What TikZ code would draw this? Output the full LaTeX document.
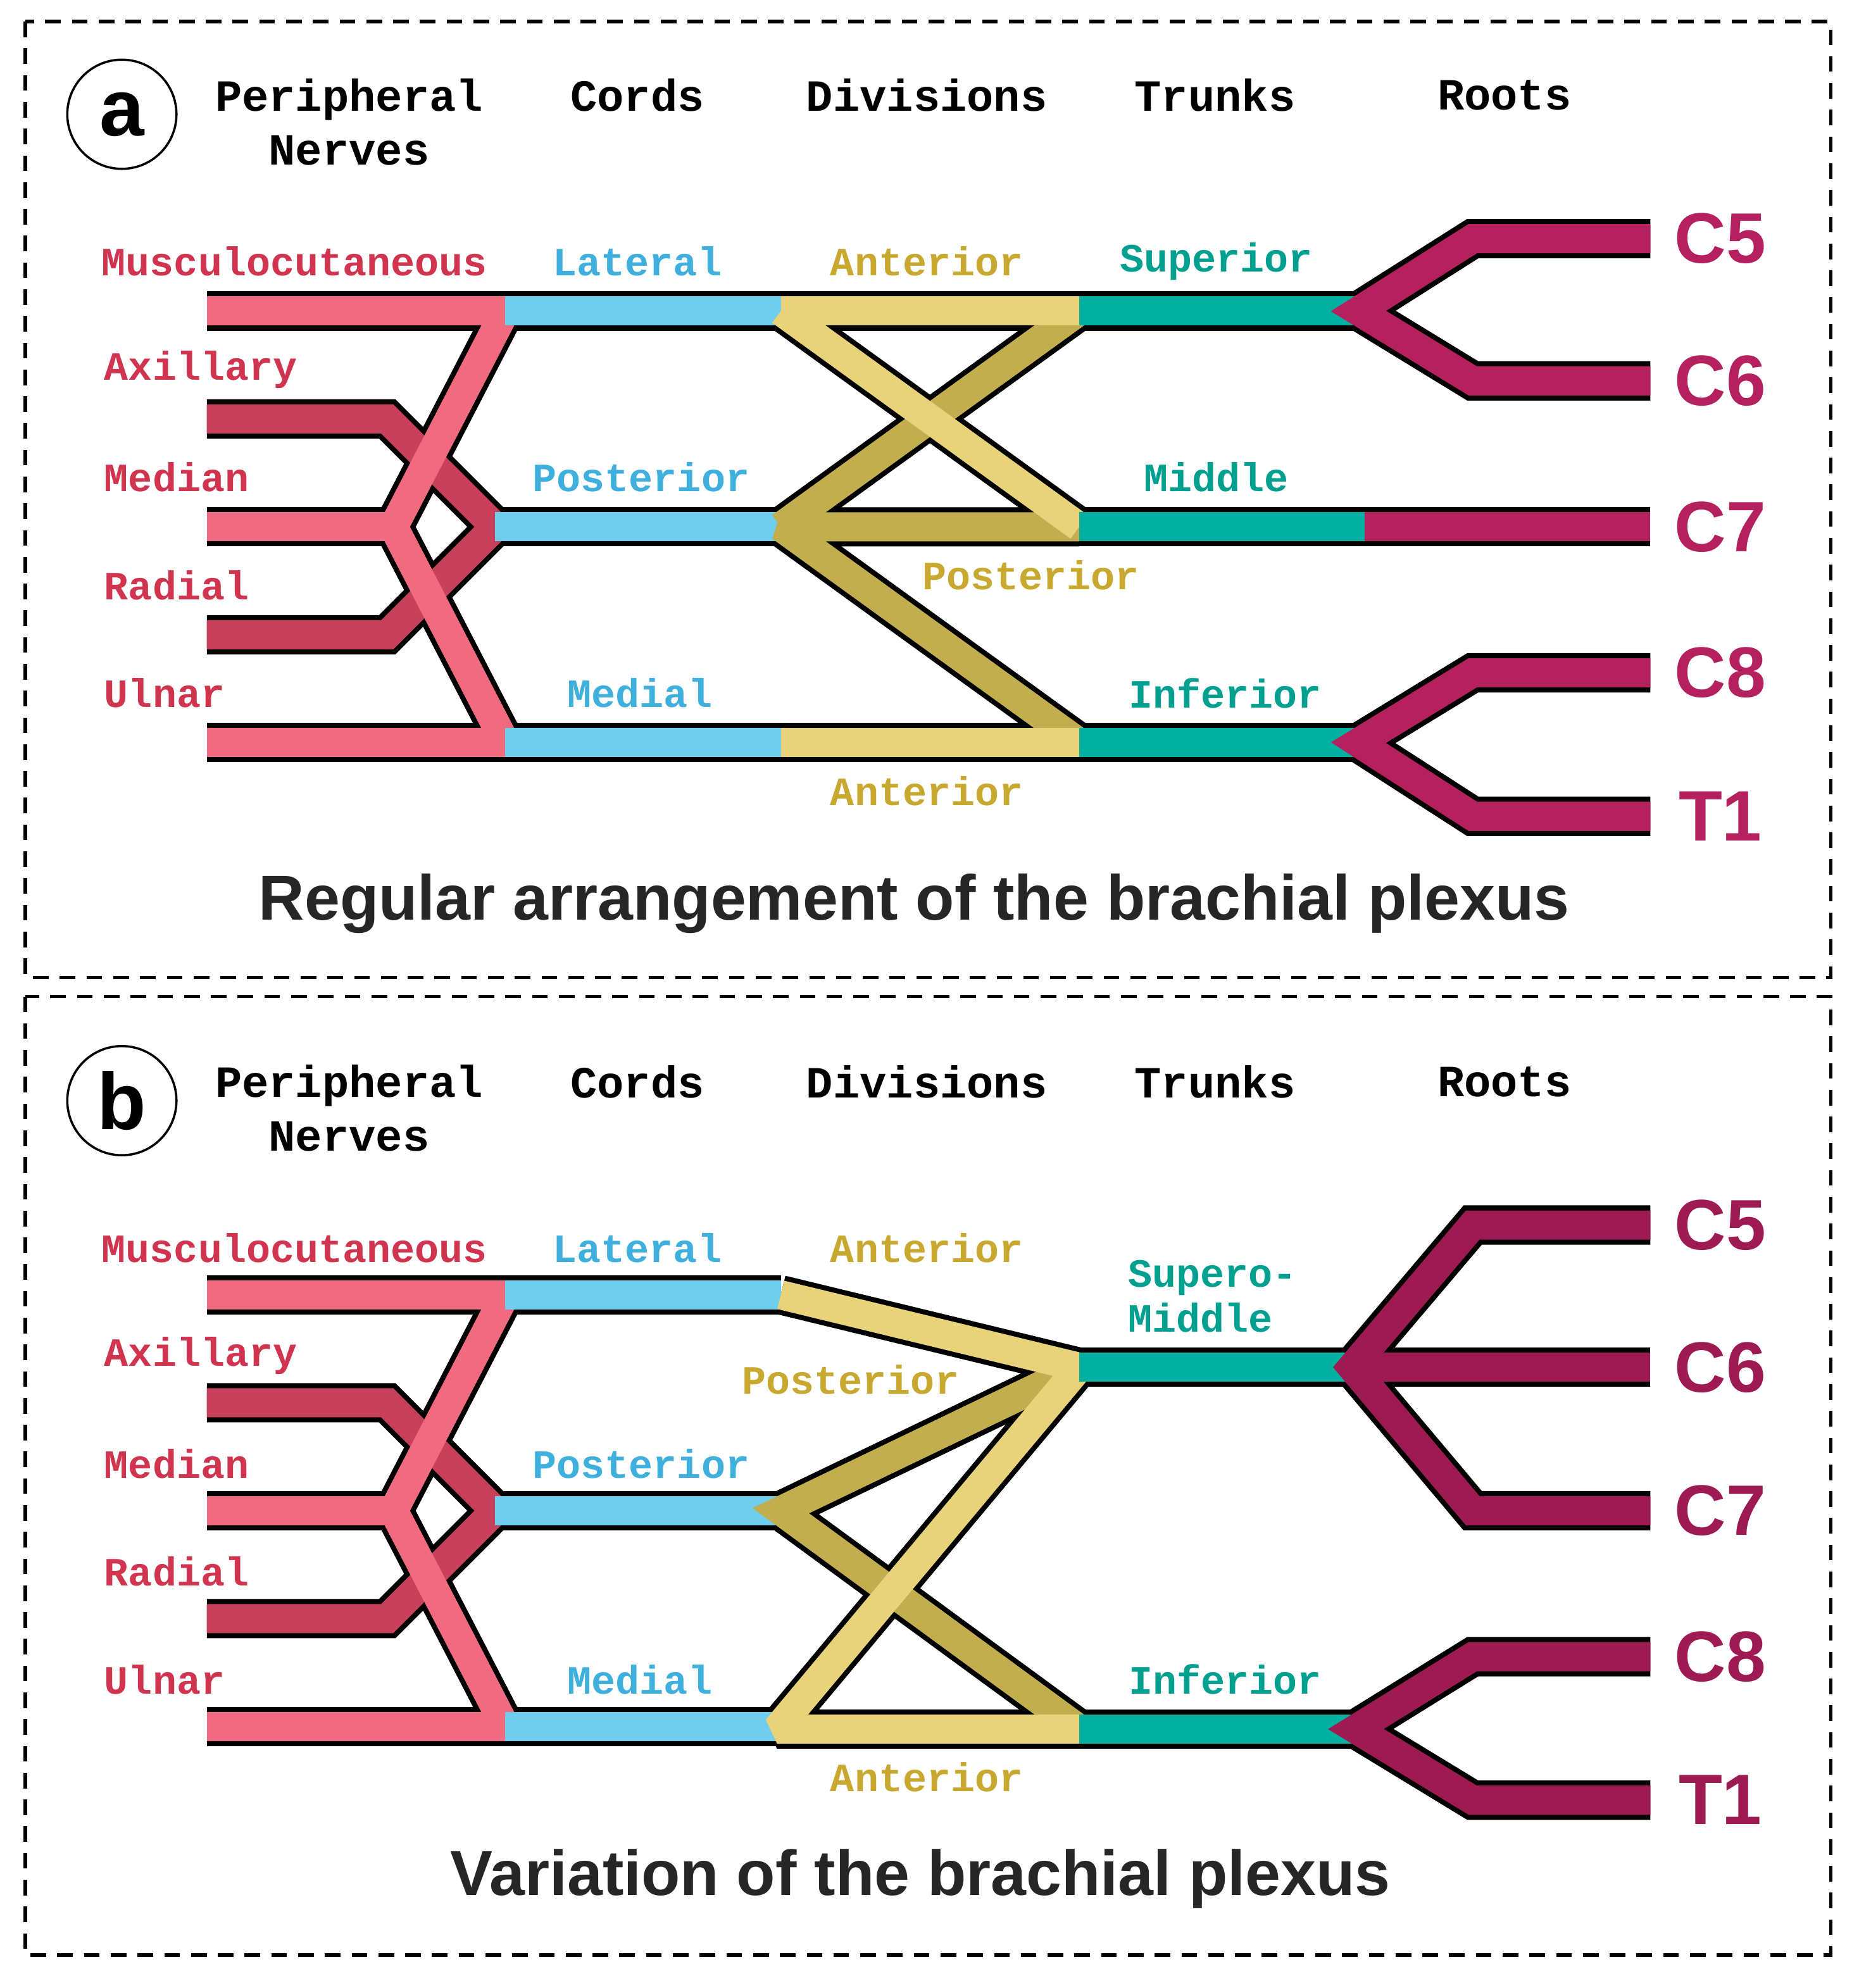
\documentclass[tikz,border=0pt]{standalone}
\usepackage{fontspec}
\setmainfont{Liberation Sans}
\newfontfamily\mono{Liberation Mono}
\begin{document}
\definecolor{pinkA}{HTML}{F06A80}
\definecolor{dpink}{HTML}{C8415A}
\definecolor{blueC}{HTML}{6FCDED}
\definecolor{lyel}{HTML}{E8D27A}
\definecolor{dyel}{HTML}{C2AE4E}
\definecolor{teal}{HTML}{00B0A0}
\definecolor{magA}{HTML}{B5205F}
\definecolor{magB}{HTML}{9E1A52}
\definecolor{tpink}{HTML}{D0344F}
\definecolor{tblue}{HTML}{3FB0DD}
\definecolor{tyel}{HTML}{C9A830}
\definecolor{tteal}{HTML}{00A090}
\begin{tikzpicture}[x=0.02cm,y=-0.02cm,line cap=butt,line join=miter,miter limit=2,
  lab/.style={font=\mono\bfseries\fontsize{18}{20}\selectfont},
  hd/.style={font=\mono\bfseries\fontsize{20}{24}\selectfont,align=center},
  root/.style={font=\bfseries\fontsize{32}{34}\selectfont,text=magA},
  ttl/.style={font=\bfseries\fontsize{28.5}{34}\selectfont,text=black!85},
  box/.style={draw,line width=1.5pt,dash pattern=on 7pt off 5pt}]
\useasboundingbox (0,0) rectangle (1464,1566);
\draw[box] (20,17) rectangle (1442,770);
\draw[box] (20,785) rectangle (1442,1540);
% ---------- panel bodies ----------
\newcommand\panelA{%
 \draw[seg=dpink] (163,330)--(305,330)--(390,415)--(305,500)--(163,500);
 \draw[seg=pinkA] (163,245)--(398,245);
 \draw[seg=pinkA] (163,415)--(310,415);
 \draw[seg=pinkA] (398,245)--(310,415)--(398,585);
 \draw[seg=pinkA] (163,585)--(398,585);
 \draw[seg=blueC] (398,245)--(615,245);
 \draw[seg=blueC] (390,415)--(615,415);
 \draw[seg=blueC] (398,585)--(615,585);
 \draw[seg=dyel] (850,245)--(615,415);
 \draw[seg=dyel] (850,415)--(615,415)--(850,585);
 \draw[seg=lyel] (615,245)--(850,245);
 \draw[seg=lyel] (615,245)--(850,415);
 \draw[seg=lyel] (615,585)--(850,585);
 \draw[seg=teal] (850,245)--(1070,245);
 \draw[seg=teal] (850,415)--(1075,415);
 \draw[seg=teal] (850,585)--(1070,585);
 \draw[seg=magA] (1300,188)--(1160,188)--(1070,245)--(1160,300)--(1300,300);
 \draw[seg=magA] (1075,415)--(1300,415);
 \draw[seg=magA] (1300,530)--(1160,530)--(1070,585)--(1160,643)--(1300,643);
}
\newcommand\panelB{%
 \draw[seg=dpink] (163,1105)--(305,1105)--(390,1190)--(305,1275)--(163,1275);
 \draw[seg=pinkA] (163,1020)--(398,1020);
 \draw[seg=pinkA] (163,1190)--(310,1190);
 \draw[seg=pinkA] (398,1020)--(310,1190)--(398,1360);
 \draw[seg=pinkA] (163,1360)--(398,1360);
 \draw[seg=blueC] (398,1020)--(615,1020);
 \draw[seg=blueC] (390,1190)--(615,1190);
 \draw[seg=blueC] (398,1360)--(612,1360);
 \draw[seg=dyel] (850,1077)--(615,1190)--(850,1362);
 \draw[seg=lyel] (615,1020)--(850,1077);
 \draw[seg=lyel] (850,1077)--(612,1362)--(850,1362);
 \draw[seg=teal] (850,1077)--(1065,1077);
 \draw[seg=teal] (850,1362)--(1068,1362);
 \draw[seg=magB] (1300,965)--(1160,965)--(1065,1077)--(1160,1190)--(1300,1190);
 \draw[seg=magB] (1065,1077)--(1300,1077);
 \draw[seg=magB] (1300,1305)--(1160,1305)--(1068,1362)--(1160,1418)--(1300,1418);
}
\tikzset{seg/.style={line width=0.62cm,black}}
\panelA \panelB
\tikzset{seg/.style={line width=0.46cm,draw=#1}}
\panelA \panelB
% ---------- labels ----------
\foreach \dy/\p in {0/a,777/b}{
 \node[circle,draw,line width=1pt,minimum size=1.72cm,font=\bfseries\fontsize{36}{36}\selectfont] (c\p) at (96,90+\dy) {\p};
 \node[hd] (h1\p) at (275,96+\dy) {Peripheral\\Nerves};
 \node[hd] (h2\p) at (502,75+\dy) {Cords};
 \node[hd] (h3\p) at (730,75+\dy) {Divisions};
 \node[hd] (h4\p) at (957,75+\dy) {Trunks};
 \node[hd] (h5\p) at (1185,75+\dy) {Roots};
 \node[lab,text=tpink] (m\p) at (232,206+\dy) {Musculocutaneous};
 \node[lab,text=tpink,anchor=west] (ax\p) at (76,291+\dy) {Axillary};
 \node[lab,text=tpink,anchor=west] (me\p) at (76,376+\dy) {Median};
 \node[lab,text=tpink,anchor=west] (ra\p) at (76,461+\dy) {Radial};
 \node[lab,text=tpink,anchor=west] (ul\p) at (76,546+\dy) {Ulnar};
 \node[lab,text=tblue] (la\p) at (502,206+\dy) {Lateral};
 \node[lab,text=tblue] (po\p) at (505,376+\dy) {Posterior};
 \node[lab,text=tblue] (md\p) at (504,546+\dy) {Medial};
 \node[lab,text=tyel] (an1\p) at (730,206+\dy) {Anterior};
 \node[lab,text=tyel] (an2\p) at (730,623+\dy) {Anterior};
 \node[lab,text=tteal] (in\p) at (965,546+\dy) {Inferior};
}
\node[lab,text=tteal] (sup) at (958,206) {Superior};
\node[lab,text=tteal] (mid) at (958,376) {Middle};
\node[lab,text=tyel] (pd1) at (812,453) {Posterior};
\node[lab,text=tteal,align=left] (sm) at (955,1021) {Supero-\\Middle};
\node[lab,text=tyel] (pd2) at (670,1087) {Posterior};
\foreach \t/\y in {C5/188,C6/300,C7/415,C8/530,T1/643}
 \node[root] (r\t a) at (1355,\y) {\t};
\foreach \t/\y in {C5/965,C6/1077,C7/1190,C8/1305,T1/1418}
 \node[root,text=magB] (r\t b) at (1355,\y) {\t};
\node[ttl] (ta) at (720,712) {Regular arrangement of the brachial plexus};
\node[ttl] (tb) at (725,1480) {Variation of the brachial plexus};
\end{tikzpicture}
\end{document}
